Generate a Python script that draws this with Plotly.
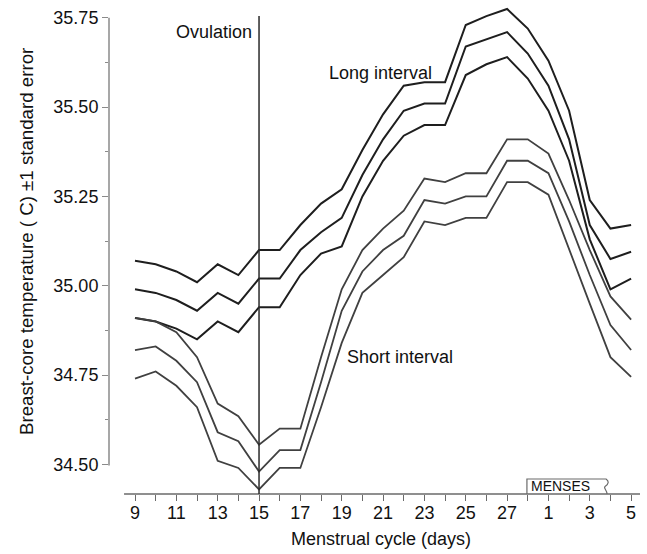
import plotly.graph_objects as go

# ---- data ----
days = [9, 10, 11, 12, 13, 14, 15, 16, 17, 18, 19, 20, 21, 22, 23, 24, 25, 26, 27, 28, 1, 2, 3, 4, 5]
labelled_days = [9, 11, 13, 15, 17, 19, 21, 23, 25, 27, 1, 3, 5]

long_upper = [35.07, 35.06, 35.04, 35.01, 35.06, 35.03, 35.10, 35.10, 35.17, 35.23, 35.27, 35.38, 35.48,
              35.56, 35.57, 35.57, 35.73, 35.755, 35.775, 35.72, 35.63, 35.49, 35.24, 35.16, 35.17]
long_mean = [34.99, 34.98, 34.96, 34.93, 34.98, 34.95, 35.02, 35.02, 35.10, 35.15, 35.19, 35.31, 35.41,
             35.49, 35.51, 35.51, 35.67, 35.69, 35.71, 35.65, 35.56, 35.41, 35.17, 35.075, 35.095]
long_lower = [34.91, 34.90, 34.88, 34.85, 34.90, 34.87, 34.94, 34.94, 35.03, 35.09, 35.11, 35.25, 35.35,
              35.42, 35.45, 35.45, 35.59, 35.62, 35.64, 35.58, 35.49, 35.35, 35.13, 34.99, 35.02]

short_upper = [34.91, 34.90, 34.87, 34.80, 34.67, 34.635, 34.555, 34.60, 34.60, 34.80, 34.99, 35.10, 35.16,
               35.21, 35.30, 35.29, 35.315, 35.315, 35.41, 35.41, 35.37, 35.24, 35.10, 34.97, 34.905]
short_mean = [34.82, 34.83, 34.79, 34.73, 34.59, 34.565, 34.48, 34.54, 34.54, 34.73, 34.93, 35.04, 35.10,
              35.14, 35.24, 35.23, 35.25, 35.25, 35.35, 35.35, 35.315, 35.18, 35.03, 34.89, 34.82]
short_lower = [34.74, 34.76, 34.72, 34.66, 34.51, 34.49, 34.43, 34.49, 34.49, 34.66, 34.84, 34.98, 35.03,
               35.08, 35.18, 35.17, 35.19, 35.19, 35.29, 35.29, 35.255, 35.10, 34.95, 34.80, 34.745]

y_ticks = [34.50, 34.75, 35.00, 35.25, 35.50, 35.75]
ovulation_day = 15
menses_start_day = 28

# ---- layout geometry ----
W, H = 647, 554
ML, MR, MT, MB = 109, 7, 5, 60
x_range = [-1.258, 24.43]
y_range = [34.417, 35.786]
FONT = "Liberation Sans, Arial, sans-serif"

x = list(range(len(days)))
ppx = (W - ML - MR) / (x_range[1] - x_range[0])   # px per index
ppy = (H - MT - MB) / (y_range[1] - y_range[0])   # px per degree


def px2paper(px, py):
    return (px - ML) / (W - ML - MR), (H - MB - py) / (H - MT - MB)


fig = go.Figure()
for ys, col, w in [(long_upper, "#1e1e1e", 2.0), (long_mean, "#1e1e1e", 2.0), (long_lower, "#1e1e1e", 2.0),
                   (short_upper, "#404040", 1.8), (short_mean, "#404040", 1.8), (short_lower, "#404040", 1.8)]:
    fig.add_trace(go.Scatter(x=x, y=ys, mode="lines", line=dict(color=col, width=w),
                             showlegend=False, hoverinfo="skip", cliponaxis=False))

tickvals = x
ticktext = [str(d) if d in labelled_days else "" for d in days]

shapes = []
# y axis line (detached)
shapes.append(dict(type="line", xref="paper", yref="y", x0=0, x1=0, y0=y_ticks[0] - 0.003, y1=y_ticks[-1],
                   line=dict(color="#8a8a8a", width=1.5)))
# x axis line
shapes.append(dict(type="line", xref="x", yref="paper", x0=-0.53, x1=x_range[1], y0=0, y1=0,
                   line=dict(color="#6a6a6a", width=1.5)))
# ovulation line
ov = days.index(ovulation_day)
shapes.append(dict(type="line", xref="x", yref="y", x0=ov, x1=ov, y0=y_range[0], y1=35.755,
                   line=dict(color="#2a2a2a", width=1.5)))
# MENSES box with break squiggle
ms = days.index(menses_start_day)
bx0 = ms - 0.04
bx1 = ms + (606 - 527.7) / ppx
ytop = y_range[0] + 15 / ppy
yb = y_range[0]
path = (f"M {bx0},{yb} L {bx0},{ytop} L {bx1},{ytop} "
        f"C {bx1 + 3/ppx},{ytop - 2/ppy} {bx1 + 3/ppx},{ytop - 5/ppy} {bx1 - 1/ppx},{ytop - 7.5/ppy} "
        f"C {bx1 - 3/ppx},{ytop - 9/ppy} {bx1 + 1/ppx},{ytop - 11/ppy} {bx1 + 1/ppx},{yb}")
shapes.append(dict(type="path", xref="x", yref="y", path=path, line=dict(color="#6a6a6a", width=1.2)))

annotations = []


def add_text(text, px, py, xanchor, size=18, angle=0):
    ax, ay = px2paper(px, py)
    annotations.append(dict(text=text, x=ax, y=ay, xref="paper", yref="paper", xanchor=xanchor,
                            yanchor="middle", showarrow=False, textangle=angle,
                            font=dict(family=FONT, size=size, color="#111")))


add_text("Ovulation", 254, 32, "right")
add_text("Long interval", 327, 73, "left")
add_text("Short interval", 345, 357, "left")
add_text("MENSES", 529, 486, "left", size=14)
add_text("Menstrual cycle (days)", 381, 539, "center")
add_text("Breast-core temperature ( C) \u00b11 standard error", 26, 242, "center", size=18.7, angle=-90)

fig.update_layout(
    template="none",
    width=W, height=H,
    margin=dict(l=ML, r=MR, t=MT, b=MB, pad=0),
    paper_bgcolor="white", plot_bgcolor="white",
    font=dict(family=FONT, size=18, color="#111"),
    shapes=shapes, annotations=annotations,
    xaxis=dict(range=x_range, tickmode="array", tickvals=tickvals, ticktext=ticktext, automargin=False,
               ticks="outside", ticklen=6, tickwidth=1.3, tickcolor="#6a6a6a", ticklabelstandoff=-4,
               showgrid=False, zeroline=False, showline=False,
               tickfont=dict(family=FONT, size=18, color="#111")),
    yaxis=dict(range=y_range, tickmode="array", tickvals=y_ticks, automargin=False,
               ticktext=[f"{v:.2f}" for v in y_ticks],
               ticks="outside", ticklen=6, tickwidth=1.3, tickcolor="#8a8a8a",
               minor=dict(tickmode="array", tickvals=[34.625, 34.875, 35.125, 35.375, 35.625],
                          ticks="outside", ticklen=3, tickcolor="#8a8a8a", showgrid=False),
               showgrid=False, zeroline=False, showline=False,
               tickfont=dict(family=FONT, size=18, color="#111")),
)

fig.write_html("out.html", config={"displayModeBar": False},
               post_script="document.body.style.margin='0';document.body.style.padding='0';")
